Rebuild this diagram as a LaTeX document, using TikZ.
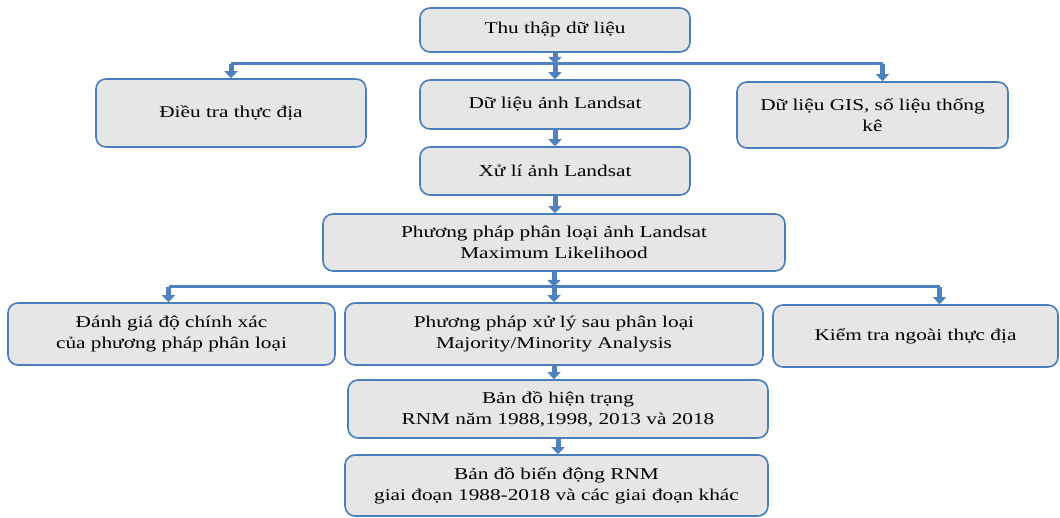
\documentclass[tikz,border=0pt]{standalone}
\usepackage{fontspec}
\setmainfont{Liberation Serif}[FakeStretch=1.29]
\usetikzlibrary{arrows.meta}

\definecolor{boxline}{HTML}{4A7EBB}
\definecolor{boxfill}{HTML}{E6E6E6}
\definecolor{arrblue}{HTML}{4F81BD}

\tikzset{
  stepbox/.style={draw=boxline, line width=1.6pt, fill=boxfill, rounded corners=10pt,
    align=center, inner sep=0pt, font=\fontsize{16.5}{21}\selectfont},
  busline/.style={draw=arrblue, line width=3pt},
  fatarrow/.style={draw=arrblue, line width=5pt, -{Triangle[width=13pt,length=7pt]}},
}

\begin{document}
\begin{tikzpicture}[x=1pt,y=-1pt]
  \useasboundingbox (0,0) rectangle (1060,518);

  % boxes
  \node[stepbox, minimum width=270pt, minimum height=44pt] (thu) at (555,30) {Thu thập dữ liệu};
  \node[stepbox, minimum width=270pt, minimum height=68pt] (dieutra) at (231,113) {Điều tra thực địa};
  \node[stepbox, minimum width=270pt, minimum height=49pt] (anh) at (555,104.5) {Dữ liệu ảnh Landsat};
  \node[stepbox, minimum width=271pt, minimum height=66pt] (gis) at (872.5,115) {Dữ liệu GIS,\ số liệu thống\\kê};
  \node[stepbox, minimum width=270pt, minimum height=48pt] (xuly) at (555,171) {Xử lí ảnh Landsat};
  \node[stepbox, minimum width=462pt, minimum height=57pt] (pp) at (554,242.5) {Phương pháp phân loại ảnh Landsat\\Maximum Likelihood};
  \node[stepbox, minimum width=327pt, minimum height=62pt] (danhgia) at (171.5,334) {Đánh giá độ chính xác\\của phương pháp phân loại};
  \node[stepbox, minimum width=418pt, minimum height=62pt] (sau) at (554,334) {Phương pháp xử lý sau phân loại\\Majority/Minority Analysis};
  \node[stepbox, minimum width=285pt, minimum height=62pt] (kiem) at (915.5,336) {Kiểm tra ngoài thực địa};
  \node[stepbox, minimum width=420pt, minimum height=58pt] (hientrang) at (558,409) {Bản đồ hiện trạng\\RNM năm 1988,1998, 2013 và 2018};
  \node[stepbox, minimum width=423pt, minimum height=61pt] (biendong) at (556.5,485.5) {Bản đồ biến động RNM\\giai đoạn 1988-2018 và các giai đoạn khác};

  % first split
  \coordinate (bus1) at (555,64);
  \draw[fatarrow] (thu.south) -- (thu.south |- bus1);
  \draw[busline] (dieutra.north |- bus1) -- ([xshift=10pt]gis.north |- bus1);
  \draw[fatarrow] (dieutra.north |- bus1) -- (dieutra.north);
  \draw[fatarrow] (anh.north |- bus1) -- (anh.north);
  \draw[fatarrow] ([xshift=10pt]gis.north |- bus1) -- ([xshift=10pt]gis.north);

  \draw[fatarrow] (anh.south) -- (xuly.north);
  \draw[fatarrow] (xuly.south) -- (xuly.south |- pp.north);

  % second split
  \coordinate (bus2) at (554,287);
  \draw[fatarrow] (pp.south) -- (pp.south |- bus2);
  \draw[busline] ([xshift=-3pt]danhgia.north |- bus2) -- ([xshift=24pt]kiem.north |- bus2);
  \draw[fatarrow] ([xshift=-3pt]danhgia.north |- bus2) -- ([xshift=-3pt]danhgia.north);
  \draw[fatarrow] (sau.north |- bus2) -- (sau.north);
  \draw[fatarrow] ([xshift=24pt]kiem.north |- bus2) -- ([xshift=24pt]kiem.north);

  \draw[fatarrow] (sau.south) -- (sau.south |- hientrang.north);
  \draw[fatarrow] (hientrang.south) -- (hientrang.south |- biendong.north);
\end{tikzpicture}
\end{document}
